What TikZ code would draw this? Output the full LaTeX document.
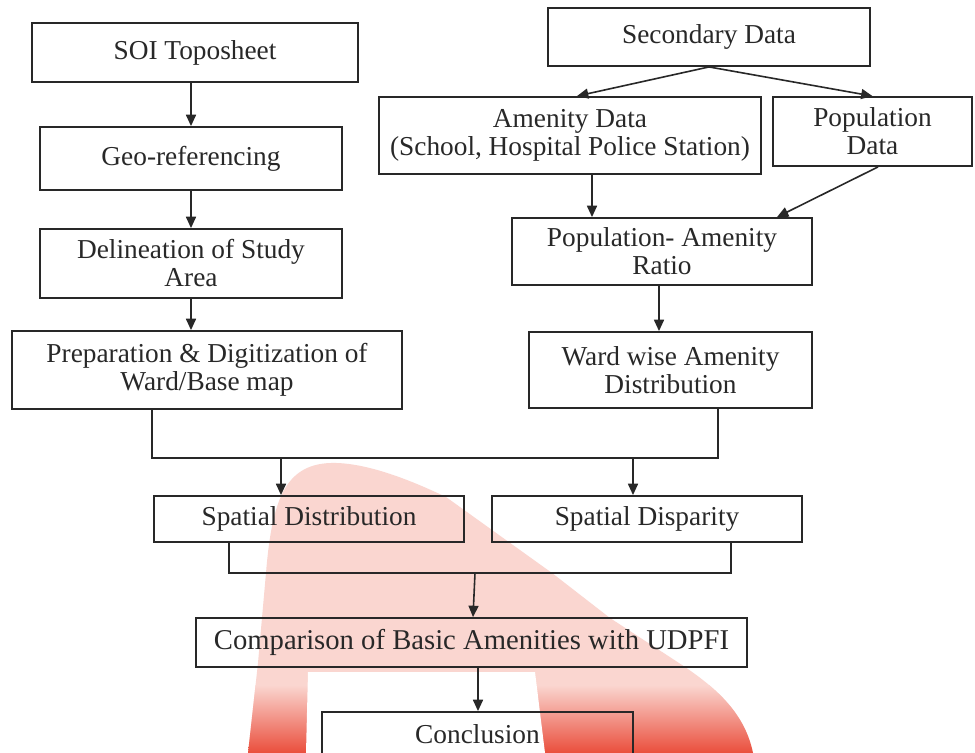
\documentclass[tikz,border=0pt]{standalone}
\usepackage{fontspec}
\setmainfont{Liberation Serif}
\usetikzlibrary{arrows.meta,calc}
\definecolor{wmpink}{RGB}{250,214,208}
\definecolor{wmred}{RGB}{234,78,60}
\definecolor{ink}{RGB}{40,40,40}
\begin{document}
\begin{tikzpicture}[x=0.75pt,y=-0.75pt,
  box/.style={draw=ink, line width=1.4pt, inner sep=0pt, align=center, text=ink,
              font=\fontsize{20.5}{21}\selectfont},
  sz/.style n args={2}{minimum width=#1*0.75pt, minimum height=#2*0.75pt},
  arr/.style={draw=ink, line width=1.2pt, -{Triangle[length=8.5pt,width=7.5pt]}},
  ln/.style={draw=ink, line width=1.2pt}]
\clip (0,0) rectangle (975,753);
\fill[white] (0,0) rectangle (975,753);
% watermark
\path[fill=wmpink] (248,753) -- (258,663) -- (266,573)
  .. controls (272,500) and (285,465) .. (330,463)
  .. controls (360,462) and (400,475) .. (446,497)
  -- (552,573) -- (610,618) -- (679,663)
  .. controls (720,690) and (745,715) .. (753,753) -- cycle;
\begin{scope}
  \clip (248,753) -- (258,663) -- (266,573)
  .. controls (272,500) and (285,465) .. (330,463)
  .. controls (360,462) and (400,475) .. (446,497)
  -- (552,573) -- (610,618) -- (679,663)
  .. controls (720,690) and (745,715) .. (753,753) -- cycle;
  \shade[top color=wmpink, bottom color=wmred] (200,685) rectangle (800,753);
\end{scope}
\fill[white] (306,753) -- (308,672) -- (535,672) -- (545,753) -- cycle;

% boxes
\node[box, sz={326}{59}] (soi) at (195,52.5) {SOI Toposheet};
\node[box, sz={302}{63}] (geo) at (191,158.5) {Geo-referencing};
\node[box, sz={302}{69}] (del) at (191,263.5) {Delineation of Study\\Area};
\node[box, sz={390}{78}] (prep) at (207,370) {Preparation \& Digitization of\\Ward/Base map};
\node[box, sz={322}{58}] (sec) at (709,37) {Secondary Data};
\node[box, sz={382}{77}] (amen) at (570,135.5) {Amenity Data\\(School, Hospital Police Station)};
\node[box, sz={199}{69}] (pop) at (872.5,131.5) {Population\\Data};
\node[box, sz={300}{67}] (ratio) at (662,251.5) {Population- Amenity\\Ratio};
\node[box, sz={283}{76}] (ward) at (670.5,370) {Ward wise Amenity\\Distribution};
\node[box, sz={310}{46}] (sdist) at (309,519) {Spatial Distribution};
\node[box, sz={310}{46}] (sdisp) at (647,519) {Spatial Disparity};
\node[box, sz={551}{49}, font=\fontsize{21.5}{22}\selectfont] (comp) at (471.5,642.5) {Comparison of Basic Amenities with UDPFI};
\node[box, sz={311}{45}] (concl) at (477.5,734.5) {Conclusion};

% coordinates
\coordinate (c1) at (191,0);
\coordinate (c2) at (577,0);
\coordinate (c3) at (592,0);
\coordinate (c4) at (878,0);
\coordinate (c5) at (777,0);
\coordinate (c6) at (659,0);
\coordinate (jl) at (152,458);
\coordinate (jr) at (718,458);
\coordinate (a1) at (281,458);
\coordinate (a2) at (633,458);
\coordinate (kl) at (229,573);
\coordinate (kr) at (731,573);
\coordinate (a3) at (475,573);
\coordinate (c7) at (478,0);

% left column
\draw[arr] (soi.south -| c1) -- (geo.north -| c1);
\draw[arr] (geo.south -| c1) -- (del.north -| c1);
\draw[arr] (del.south -| c1) -- (prep.north -| c1);
% right column
\draw[arr] (sec.south) -- (amen.north -| c2);
\draw[arr] (sec.south) -- (pop.north);
\draw[arr] (amen.south -| c3) -- (ratio.north -| c3);
\draw[arr] (pop.south -| c4) -- (ratio.north -| c5);
\draw[arr] (ratio.south -| c6) -- (ward.north -| c6);
% merge 1
\draw[ln] (prep.south -| jl) -- (jl) -- (jr) -- (ward.south -| jr);
\draw[arr] (a1) -- (sdist.north -| a1);
\draw[arr] (a2) -- (sdisp.north -| a2);
% merge 2
\draw[ln] (sdist.south -| kl) -- (kl) -- (kr) -- (sdisp.south -| kr);
\draw[arr] (a3) -- ($(comp.north)+(1.5,0)$);
\draw[arr] (comp.south -| c7) -- (concl.north -| c7);
\end{tikzpicture}
\end{document}
